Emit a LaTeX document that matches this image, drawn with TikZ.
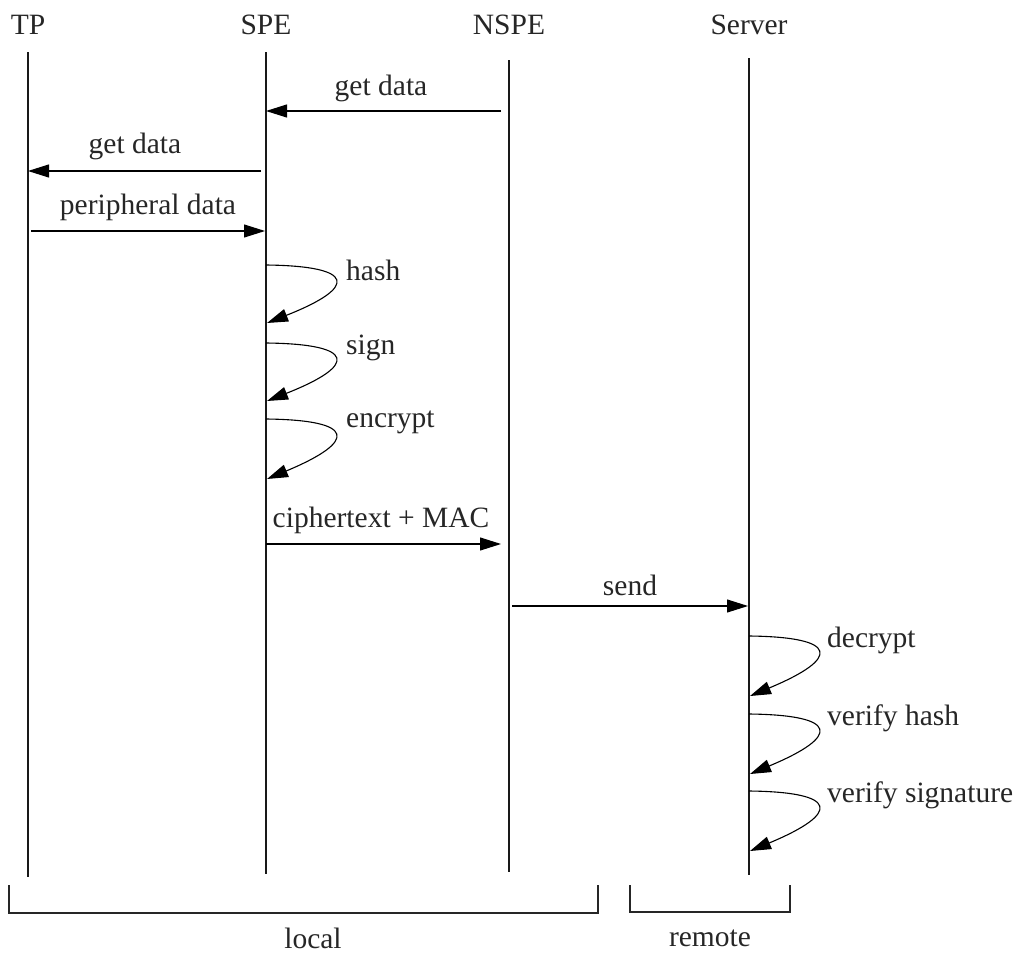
\documentclass[tikz,border=0pt]{standalone}
\usepackage{fontspec}
\setmainfont{Liberation Serif}
\usetikzlibrary{arrows.meta}
\begin{document}
\begin{tikzpicture}[x=1pt,y=-1pt,
  every node/.style={font=\fontsize{29.5}{34}\selectfont, text=black!85, inner sep=0pt},
  life/.style={line width=1.2pt, black!90},
  msg/.style={line width=1.1pt, -{Triangle[length=21pt,width=13pt]}},
  selfloop/.style={line width=1.1pt, -{Triangle[length=21pt,width=13pt]}},
  brack/.style={line width=1.3pt, black!85}]
\useasboundingbox (0,0) rectangle (1029,953);
% headers
\node (hTP) at (28,25) {TP};
\node (hSPE) at (266,25) {SPE};
\node (hNSPE) at (509,25) {NSPE};
\node (hSrv) at (749,25) {Server};
% lifelines
\coordinate (tpT) at (28,52); \coordinate (tpB) at (28,877);
\coordinate (speT) at (266,52); \coordinate (speB) at (266,874);
\coordinate (nspeT) at (509,60); \coordinate (nspeB) at (509,872);
\coordinate (srvT) at (749,58); \coordinate (srvB) at (749,875);
\draw[life] (tpT) -- (tpB);
\draw[life] (speT) -- (speB);
\draw[life] (nspeT) -- (nspeB);
\draw[life] (srvT) -- (srvB);
% messages
\coordinate (m1a) at (501,111); \coordinate (m1b) at (266,111);
\draw[msg] (m1a) -- (m1b);
\node (l1) at (381,88) {get data};
\coordinate (m2a) at (261,171); \coordinate (m2b) at (28,171);
\draw[msg] (m2a) -- (m2b);
\node (l2) at (135,146) {get data};
\coordinate (m3a) at (31,231); \coordinate (m3b) at (265,231);
\draw[msg] (m3a) -- (m3b);
\node (l3) at (148,207) {peripheral data};
% self loops SPE
\foreach \ys/\ye/\ly/\txt/\nm in {265/323/270/hash/a, 343/401/348/sign/b, 419/479/422/encrypt/c}{
  \coordinate (s\nm) at (266,\ys);
  \coordinate (e\nm) at (267,\ye);
  \draw[selfloop] (s\nm) .. controls (356,\ys+1) and (358,{\ys+22}) .. (e\nm);
  \node[anchor=west] (t\nm) at (346,\ly) {\txt};
}
\coordinate (m4a) at (266,544); \coordinate (m4b) at (501,544);
\draw[msg] (m4a) -- (m4b);
\node (l4) at (381,520) {ciphertext + MAC};
\coordinate (m5a) at (512,606); \coordinate (m5b) at (748,606);
\draw[msg] (m5a) -- (m5b);
\node (l5) at (630,585) {send};
% self loops Server
\foreach \ys/\ye/\ly/\txt/\nm in {636/696/640/decrypt/d, 714/774/718/verify hash/e, 791/851/795/verify signature/f}{
  \coordinate (s\nm) at (749,\ys);
  \coordinate (e\nm) at (750,\ye);
  \draw[selfloop] (s\nm) .. controls (839,\ys+1) and (841,{\ys+22}) .. (e\nm);
  \node[anchor=west] (t\nm) at (827,\ly) {\txt};
}
% brackets
\coordinate (b1a) at (9,885); \coordinate (b1b) at (9,913);
\coordinate (b1c) at (598,913); \coordinate (b1d) at (598,885);
\draw[brack] (b1a) -- (b1b) -- (b1c) -- (b1d);
\node (local) at (313,938) {local};
\coordinate (b2a) at (630,885); \coordinate (b2b) at (630,912);
\coordinate (b2c) at (790,912); \coordinate (b2d) at (790,885);
\draw[brack] (b2a) -- (b2b) -- (b2c) -- (b2d);
\node (remote) at (710,938) {remote};
\end{tikzpicture}
\end{document}
